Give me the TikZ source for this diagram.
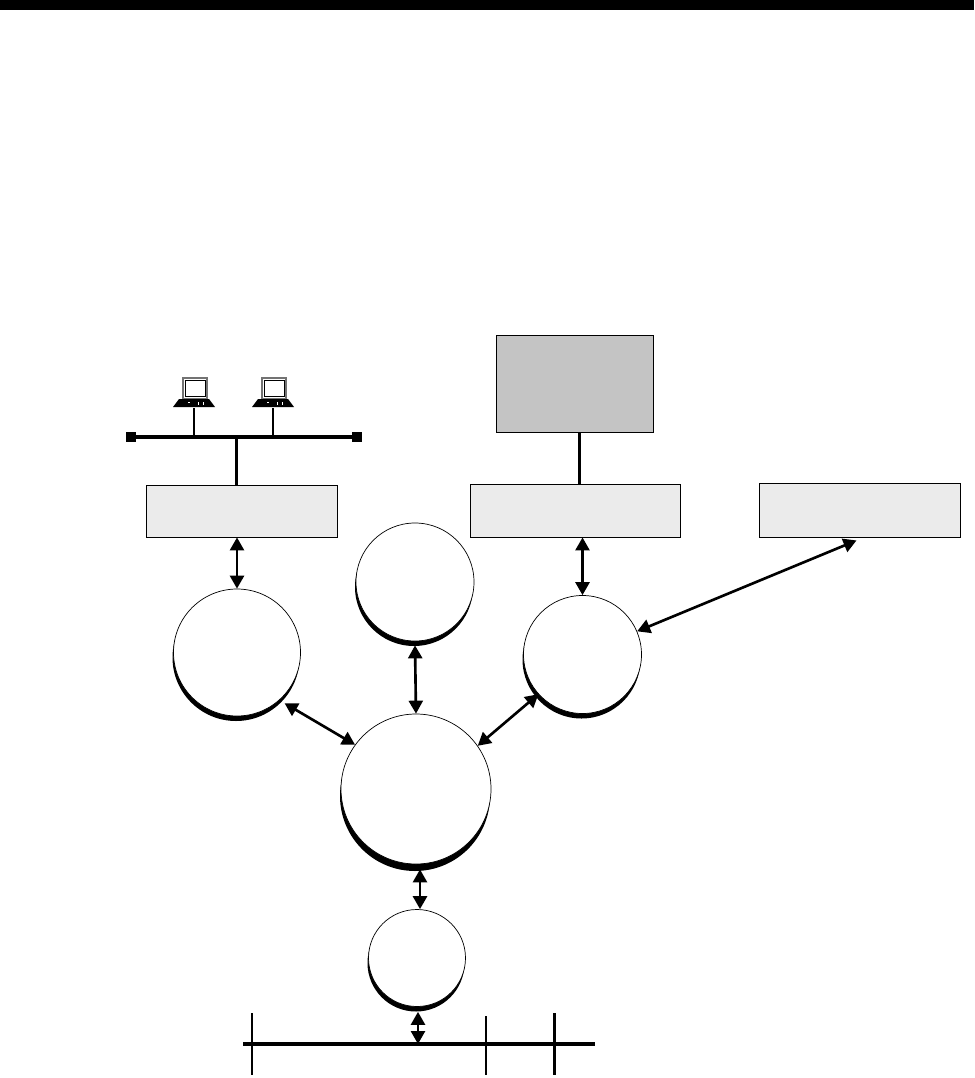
\documentclass[tikz,border=0pt]{standalone}
\usepackage{xcolor}
\usepackage{tikz}
\usetikzlibrary{arrows.meta,calc,shadows}
\definecolor{boxc}{HTML}{EBEBEB}
\definecolor{hostc}{HTML}{C4C4C4}
\tikzset{
  >={Triangle[length=0.26cm,width=0.28cm]},
  proc/.style={circle,draw=black,line width=0.4pt,fill=white,inner sep=0pt},
  procshadow/.style={drop shadow={shadow xshift=-0.02cm,shadow yshift=-#1*0.02cm,fill=black,opacity=1}},
  sbox/.style={rectangle,draw=black,line width=0.5pt,fill=boxc,inner sep=0pt},
  link/.style={<->,line width=1.5pt},
  bus/.style={line width=1.9pt},
  wire/.style={line width=1.7pt},
  tapthin/.style={line width=0.8pt},
  stopper/.style={rectangle,fill=black,minimum size=0.2cm,inner sep=0pt}
}
\newcommand{\procnode}[5]{%
  \node[proc,procshadow=#5,minimum size=#4*0.02cm] (#1) at (#2,#3) {};
}
\newcommand{\boxnode}[5]{%
  \node[sbox,minimum width=#4*0.02cm,minimum height=#5*0.02cm] (#1) at (#2,#3) {};
}
\newcommand{\laptop}[2]{%
  \draw[black!55,fill=white,line width=1.2pt] (#1-11,#2-18) rectangle (#1+13,#2+3);
  \draw[black,line width=0.5pt] (#1-9,#2-16) rectangle (#1+11,#2+0);
  \fill[black] (#1-15,#2+3) -- (#1+15,#2+3) -- (#1+21,#2+11) -- (#1-21,#2+11) -- cycle;
  \fill[white] (#1+4,#2+6) rectangle (#1+5,#2+9);
  \fill[white] (#1+9,#2+6) rectangle (#1+10,#2+9);
  \fill[white] (#1-6,#2+6) rectangle (#1-4,#2+7);
}
\begin{document}
\begin{tikzpicture}[x=0.02cm,y=-0.02cm]
  \useasboundingbox (0,0) rectangle (974,1078);
  \fill[black] (0,0) rectangle (974,10);
  % boxes
  \boxnode{lanbox}{241.5}{511}{191}{52}
  \boxnode{hostbox}{575}{510.5}{210}{53}
  \boxnode{extbox}{859.5}{510}{201}{54}
  \node[sbox,fill=hostc,minimum width=157*0.02cm,minimum height=97*0.02cm] (host) at (574.5,383.5) {};
  % circles
  \procnode{left}{237}{652.5}{127}{5}
  \procnode{top}{415}{582}{118}{5}
  \procnode{right}{582.5}{654.5}{118}{5}
  \procnode{hub}{416}{789}{150}{7}
  \procnode{low}{417}{958}{97}{5}
  % lan segment
  \node[stopper] (lanl) at (131,437) {};
  \node[stopper] (lanr) at (357,437) {};
  \draw[bus] (lanl) -- (lanr);
  \laptop{194}{396}
  \laptop{273}{396}
  \coordinate (pca) at (194,408);
  \coordinate (pcb) at (273,408);
  \draw[wire] (pca) -- (pca |- lanl);
  \draw[line width=1.1pt] (pcb) -- (pcb |- lanl);
  \coordinate (lantap) at (236.5,437);
  \draw[wire] (lantap) -- (lantap |- lanbox.north);
  \coordinate (hosttap) at (579,432);
  \draw[wire] (hosttap) -- (hosttap |- hostbox.north);
  % arrows
  \draw[link] (lanbox.south -| left) -- (left.north);
  \draw[link] (hostbox.south -| right) -- (right.north);
  \draw[link] ([xshift=-0.06cm,yshift=-0.06cm]extbox.south) -- (right.23);
  \draw[link] ([yshift=-0.08cm]top.south) -- (hub.north);
  \draw[link] ([xshift=0.08cm,yshift=-0.08cm]left.-47) -- (hub.144);
  \draw[link] (hub.35) -- (right.-138);
  \draw[link] ([xshift=0.08cm,yshift=-0.1cm]hub.south) -- ([xshift=0.06cm]low.north);
  % bottom bus
  \coordinate (busl) at (243,1044);
  \coordinate (busr) at (595,1044);
  \draw[bus] (busl) -- (busr);
  \coordinate (busm) at (418,1044);
  \draw[link] ([yshift=-0.1cm]low.south -| busm) -- (busm);
  \draw[wire] (252,1013) -- (252,1075);
  \draw[tapthin] (486,1016) -- (486,1075);
  \draw[wire] (554,1013) -- (554,1075);
\end{tikzpicture}
\end{document}
